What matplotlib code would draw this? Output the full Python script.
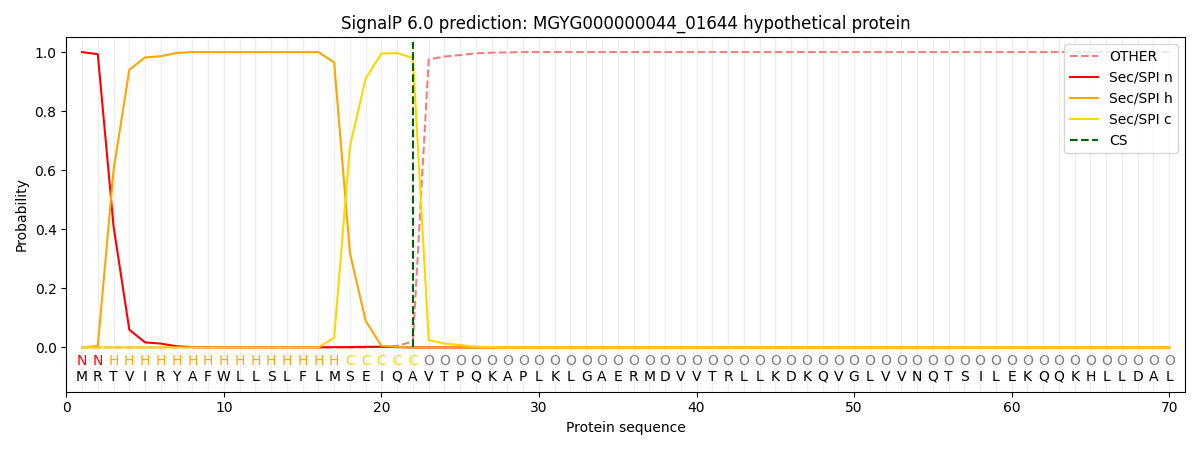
import matplotlib
matplotlib.use("Agg")
import matplotlib.pyplot as plt
import numpy as np

sequence = list("MRTVIRYAFWLLSLFLMSEIQAVTPQKAPLKLGAERMDVVTRLLKDKQVGLVVNQTSILEKQQKHLLDAL")
states = list("NN" + "H" * 15 + "C" * 5 + "O" * 48)

n = len(sequence)
positions = list(range(1, n + 1))

sec_n = [1.0, 0.993, 0.41, 0.06, 0.017, 0.013, 0.004, 0.001] + [0.0005] * 8 + [0.001, 0.001, 0.002, 0.002, 0.001] + [0.0] * 49
sec_h = [0.0, 0.005, 0.6, 0.94, 0.982, 0.986, 0.997] + [1.0] * 9 + [0.965, 0.32, 0.09, 0.005, 0.002] + [0.0] * 49
sec_c = [0.0] * 16 + [0.033, 0.68, 0.91, 0.995, 0.997, 0.98, 0.025, 0.013, 0.008, 0.003, 0.001] + [0.0] * 43
other = [0.0] * 19 + [0.003, 0.005, 0.02, 0.975, 0.985, 0.99, 0.996, 0.998, 0.999] + [1.0] * 42
cs_pos = 22

state_colors = {"N": "red", "H": "orange", "C": "gold", "O": "gray"}

fig, ax = plt.subplots(figsize=(12, 4.5), dpi=100)

for p in positions:
    ax.axvline(p, color="#eeeeee", lw=1, zorder=0)

ax.plot(positions, other, color="lightcoral", ls="--", label="OTHER")
ax.plot(positions, sec_n, color="red", label="Sec/SPI n")
ax.plot(positions, sec_h, color="orange", label="Sec/SPI h")
ax.plot(positions, sec_c, color="gold", label="Sec/SPI c")
ax.vlines(cs_pos, 0, 1.035, color="darkgreen", ls="--", label="CS")

for p, s, aa in zip(positions, states, sequence):
    ax.text(p, -0.047, s, color=state_colors[s], ha="center", va="center", fontsize=10)
    ax.text(p, -0.10, aa, color="black", ha="center", va="center", fontsize=10)

ax.set_xlim(0, 71)
ax.set_ylim(-0.15, 1.05)
ax.set_xlabel("Protein sequence")
ax.set_ylabel("Probability")
ax.set_title("SignalP 6.0 prediction: MGYG000000044_01644 hypothetical protein")
ax.legend(loc="upper right")
fig.tight_layout()
fig.savefig("out.png")
